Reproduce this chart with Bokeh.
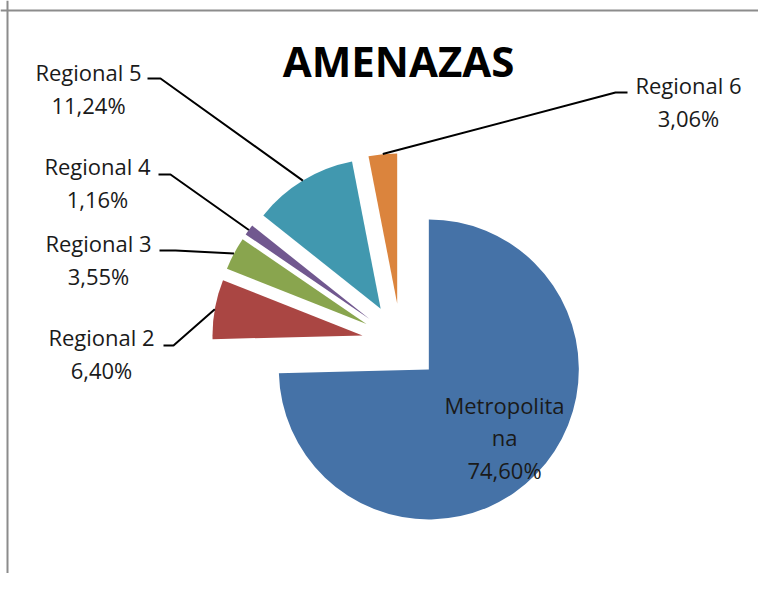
import numpy as np
from bokeh.plotting import figure
from bokeh.models import ColumnDataSource, Range1d, Span
from bokeh.core.properties import value
from bokeh.embed import file_html
from bokeh.resources import INLINE

# ---- data ----
categories = ["Metropolitana", "Regional 2", "Regional 3", "Regional 4", "Regional 5", "Regional 6"]
label_names = ["Metropolita\nna", "Regional 2", "Regional 3", "Regional 4", "Regional 5", "Regional 6"]
values = [74.60, 6.40, 3.55, 1.16, 11.24, 3.06]
colors = ["#4572A7", "#AA4643", "#89A54E", "#71588F", "#4198AF", "#DB843D"]
title_text = "AMENAZAS"

# ---- layout (page pixels) ----
W, H = 758, 573
def sy(y):  # screen y -> data y
    return 589 - y

CX, CY = 400.4, sy(341.7)
R = 150
EXP = 39
FONT = "Open Sans"

vals = np.array(values)
cum = np.concatenate([[0], np.cumsum(vals)]) / vals.sum() * 360.0
th1, th2 = cum[:-1], cum[1:]
mid = (th1 + th2) / 2
phi = np.radians(90 - mid)
dx, dy = np.cos(phi), np.sin(phi)

src = ColumnDataSource(dict(
    x=CX + EXP * dx, y=CY + EXP * dy,
    start=np.radians(90 - th2), end=np.radians(90 - th1),
    color=colors, cat=categories,
))

p = figure(width=W, height=H, output_backend="svg", toolbar_location=None,
           x_range=Range1d(0, W), y_range=Range1d(589 - H, 589),
           min_border=0, outline_line_color=None, background_fill_color="white")
p.axis.visible = False
p.grid.visible = False

p.wedge(x="x", y="y", radius=R, start_angle="start", end_angle="end",
        direction="anticlock", color="color", line_color=None, source=src)

# border (chart area frame, top and left visible)
p.add_layout(Span(location=sy(10), dimension="width", line_color="#8c8c8c", line_width=2))
p.add_layout(Span(location=7, dimension="height", line_color="#8c8c8c", line_width=2))

# title
p.text(x=[398], y=[sy(60)], text=[title_text], text_font=value(FONT), text_font_style="bold",
       text_font_size="42px", text_align="center", text_baseline="middle", text_color="black")

def pct(v):
    return f"{v:.2f}".replace(".", ",") + "%"

# label positions (screen) and leader elbows
label_pos = {1: (101, 353), 2: (98, 259), 3: (97, 182), 4: (88, 88), 5: (688, 101)}
elbows = {1: [(173, 345), (163, 345)], 2: [(175, 250), (159, 250)], 3: [(170, 174), (158, 174)],
          4: [(160, 78), (147, 78)], 5: [(615, 92), (627, 92)]}

for i in range(1, 6):
    sxp = CX + (EXP + R) * dx[i]
    syp = CY + (EXP + R) * dy[i]
    xs = [sxp] + [e[0] for e in elbows[i]]
    ys = [syp] + [sy(e[1]) for e in elbows[i]]
    p.line(xs, ys, line_color="black", line_width=2)

lx = [label_pos[i][0] for i in range(1, 6)]
ly = [sy(label_pos[i][1]) for i in range(1, 6)]
lt = [f"{label_names[i]}\n{pct(values[i])}" for i in range(1, 6)]
p.text(x=lx, y=ly, text=lt, text_font=value(FONT), text_font_size="22px",
       text_align="center", text_baseline="middle", text_color="#1a1a1a", text_line_height=1.07)

# Metropolitana label inside slice
p.text(x=[504], y=[sy(437)], text=[f"{label_names[0]}\n{pct(values[0])}"], text_font=value(FONT),
       text_font_size="22px", text_align="center", text_baseline="middle", text_color="#1a1a1a",
       text_line_height=1.07)

open("out.html", "w").write(file_html(p, INLINE))
